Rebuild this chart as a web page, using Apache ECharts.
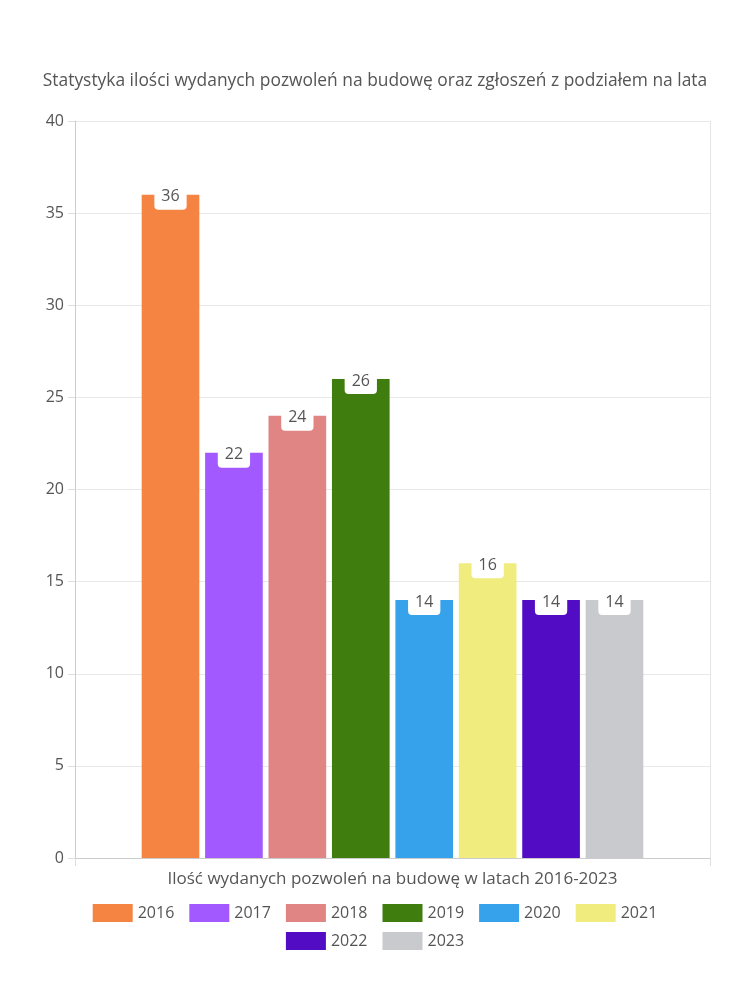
<!DOCTYPE html>
<html><head><meta charset="utf-8">
<script src="https://cdn.jsdelivr.net/npm/echarts@6/dist/echarts.min.js"></script>
<style>html,body{margin:0;padding:0;background:#fff}#c{width:750px;height:1000px}</style>
</head><body><div id="c"></div>
<script>
const years = ['2016','2017','2018','2019','2020','2021','2022','2023'];
const values = [36, 22, 24, 26, 14, 16, 14, 14];
const colors = ['#F58442','#A259FF','#E08484','#3E7D0E','#36A2EB','#F0EC7E','#520CC4','#C9CACE'];
const category = ['Ilość wydanych pozwoleń na budowę w latach 2016-2023'];
const titleText = 'Statystyka ilości wydanych pozwoleń na budowę oraz zgłoszeń z podziałem na lata';
const yTicks = {min: 0, max: 40, interval: 5};

const FONT = 'Open Sans';
const legendBase = {left: 'center', itemWidth: 40, itemHeight: 18, itemGap: 15, icon: 'rect',
  textStyle: {fontSize: 16, color: '#555', fontFamily: FONT}};
const chart = echarts.init(document.getElementById('c'), null, {renderer: 'canvas'});
chart.setOption({
  animation: false,
  textStyle: {fontFamily: FONT},
  title: {text: titleText, left: 'center', top: 68,
    textStyle: {fontFamily: FONT, fontSize: 17.4, fontWeight: 'normal', color: '#555'}},
  grid: {left: 75, right: 40, top: 121, bottom: 142, containLabel: false},
  legend: [
    Object.assign({}, legendBase, {top: 899, data: years.slice(0, 6)}),
    Object.assign({}, legendBase, {top: 927, data: years.slice(6)})
  ],
  xAxis: {type: 'category', data: category, boundaryGap: true,
    axisLine: {lineStyle: {color: '#ccc'}},
    axisTick: {show: true, length: 8, lineStyle: {color: '#ddd'}},
    splitLine: {show: true, lineStyle: {color: '#e5e5e5'}},
    axisLabel: {fontSize: 17, color: '#555', margin: 13, fontFamily: FONT}},
  yAxis: {type: 'value', min: yTicks.min, max: yTicks.max, interval: yTicks.interval,
    axisLine: {show: true, lineStyle: {color: '#ccc'}},
    axisTick: {show: true, length: 7, lineStyle: {color: '#ddd'}},
    splitLine: {lineStyle: {color: '#e8e8e8'}},
    axisLabel: {fontSize: 16, color: '#555', margin: 11, fontFamily: FONT}},
  series: years.map((y, i) => ({
    name: y, type: 'bar', data: [values[i]],
    itemStyle: {color: colors[i]},
    barCategoryGap: '21%', barGap: '10%',
    label: {show: true, position: 'insideTop', distance: 0, offset: [0, -8],
      backgroundColor: '#fff', borderRadius: 4, padding: [2, 7, 5, 7],
      color: '#555', fontSize: 16, fontFamily: FONT}
  }))
});
</script></body></html>
